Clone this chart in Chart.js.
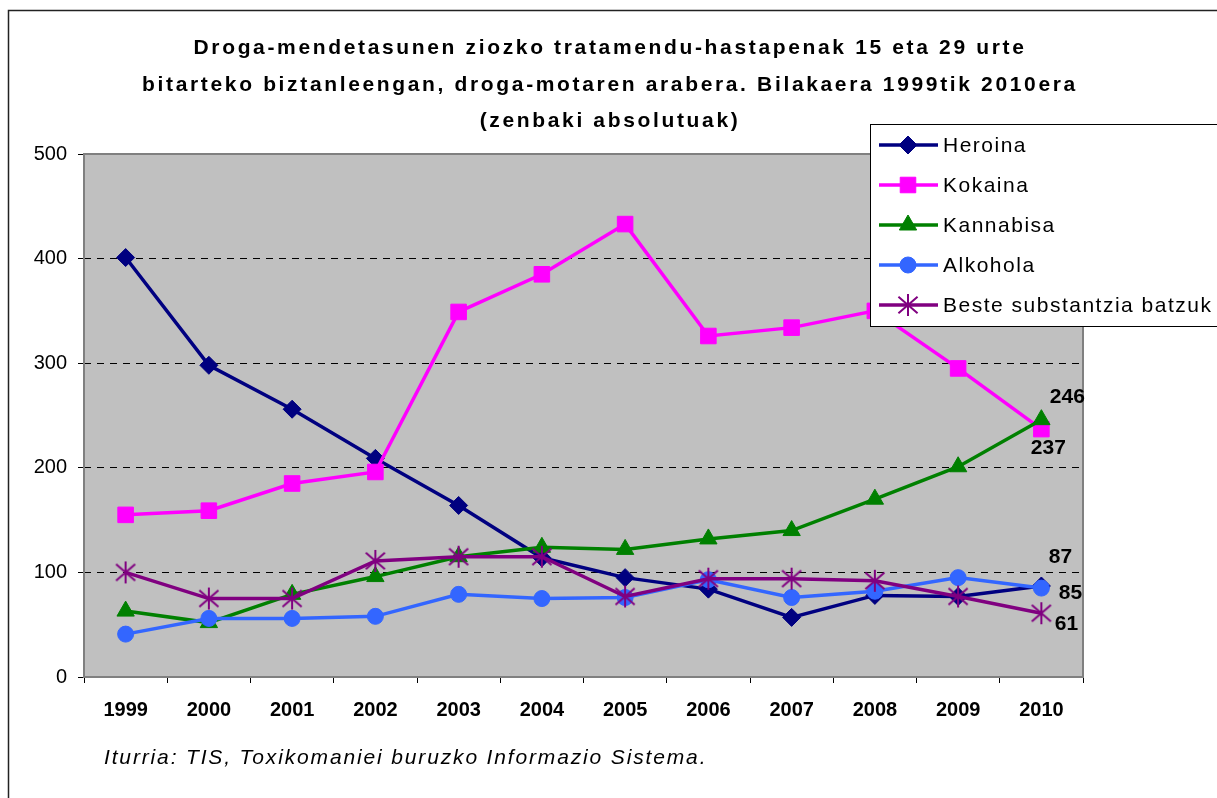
<!DOCTYPE html>
<html>
<head>
<meta charset="utf-8">
<script src="https://cdn.jsdelivr.net/npm/chart.js@4/dist/chart.umd.min.js"></script>
<style>
html,body{margin:0;padding:0;background:#fff;overflow:hidden;}
canvas{display:block;}
</style>
</head>
<body>
<canvas id="c" width="1217" height="798"></canvas>
<script>
const titleLines = [
  "Droga-mendetasunen ziozko tratamendu-hastapenak 15 eta 29 urte",
  "bitarteko biztanleengan, droga-motaren arabera. Bilakaera 1999tik 2010era",
  "(zenbaki absolutuak)"
];
const sourceText = "Iturria: TIS, Toxikomaniei buruzko Informazio Sistema.";
const years = ["1999","2000","2001","2002","2003","2004","2005","2006","2007","2008","2009","2010"];
const seriesNames = ["Heroina","Kokaina","Kannabisa","Alkohola","Beste substantzia batzuk"];
const heroina   = [401, 298, 256, 209, 164, 114, 95, 84, 57, 78, 77, 87];
const kokaina   = [155, 159, 185, 196, 349, 385, 433, 326, 334, 350, 295, 237];
const kannabisa = [63, 52, 79, 96, 115, 124, 122, 132, 140, 170, 201, 246];
const alkohola  = [41, 56, 56, 58, 79, 75, 76, 93, 76, 82, 95, 85];
const beste     = [100, 75, 75, 111, 115, 115, 77, 94, 94, 92, 77, 61];
const yTicks = [0, 100, 200, 300, 400, 500];

const FONT = '"Liberation Sans", Arial, sans-serif';

// asterisk marker
function makeStar(size, color) {
  const c = document.createElement('canvas');
  c.width = size; c.height = size;
  const g = c.getContext('2d');
  g.strokeStyle = color; g.lineWidth = 2; g.lineCap = 'butt';
  const m = size / 2, r = size / 2 - 1;
  g.beginPath();
  g.moveTo(m, m - r); g.lineTo(m, m + r);
  const dx = r * 0.87, dy = r * 0.75;
  g.moveTo(m - dx, m - dy); g.lineTo(m + dx, m + dy);
  g.moveTo(m - dx, m + dy); g.lineTo(m + dx, m - dy);
  g.stroke();
  return c;
}
const starImg = makeStar(24, '#800080');

const styles = [
  {color:'#000080', point:'rectRot', radius:9},
  {color:'#FF00FF', point:'rect', radius:11},
  {color:'#008000', point:'triangle', radius:10},
  {color:'#3366FF', point:'circle', radius:8},
  {color:'#800080', point:starImg, radius:10}
];
const values = [heroina, kokaina, kannabisa, alkohola, beste];

const datasets = values.map((v, i) => ({
  label: seriesNames[i],
  data: v,
  borderColor: styles[i].color,
  backgroundColor: styles[i].color,
  pointBackgroundColor: styles[i].color,
  pointBorderColor: styles[i].color,
  pointStyle: styles[i].point,
  pointRadius: styles[i].radius,
  pointBorderWidth: 1,
  borderWidth: 3.5,
  tension: 0,
  order: 5 - i
}));

const CA = {left: 84, right: 1083, top: 154, bottom: 677};

function spaced(ctx, px) {
  if ('letterSpacing' in ctx) ctx.letterSpacing = px + 'px';
}

const decor = {
  id: 'decor',
  beforeDraw(chart) {
    const ctx = chart.ctx;
    const a = chart.chartArea;
    ctx.save();
    ctx.fillStyle = '#fff';
    ctx.fillRect(0, 0, chart.width, chart.height);
    ctx.strokeStyle = '#222';
    ctx.lineWidth = 1.5;
    ctx.strokeRect(8.5, 10.5, 1400, 1000);
    ctx.fillStyle = '#C0C0C0';
    ctx.fillRect(a.left, a.top, a.right - a.left, a.bottom - a.top);
    ctx.restore();
  },
  beforeDatasetsDraw(chart) {
    const ctx = chart.ctx;
    const a = chart.chartArea;
    ctx.save();
    ctx.strokeStyle = '#808080';
    ctx.lineWidth = 2;
    ctx.strokeRect(a.left, a.top, a.right - a.left, a.bottom - a.top);
    ctx.restore();
  },
  afterDraw(chart) {
    const ctx = chart.ctx;
    ctx.save();
    // title
    ctx.fillStyle = '#000';
    ctx.font = 'bold 21px ' + FONT;
    spaced(ctx, 2.65);
    ctx.textAlign = 'center';
    ctx.textBaseline = 'middle';
    const ty = [48, 85, 121];
    titleLines.forEach((t, i) => ctx.fillText(t, 610, ty[i]));
    // source
    ctx.font = 'italic 21px ' + FONT;
    spaced(ctx, 1.85);
    ctx.textAlign = 'left';
    ctx.fillText(sourceText, 104, 758);
    // data labels at last point
    spaced(ctx, 0);
    ctx.font = 'bold 21px ' + FONT;
    ctx.textAlign = 'center';
    const offs = [[19,-29],[7,19],[26,-22],[29,5],[25,11]];
    chart.data.datasets.forEach((ds, i) => {
      const meta = chart.getDatasetMeta(i);
      const p = meta.data[meta.data.length - 1];
      const val = ds.data[ds.data.length - 1];
      ctx.fillText(String(val), p.x + offs[i][0], p.y + offs[i][1]);
    });
    // legend
    const lx = 870, ly = 124;
    ctx.fillStyle = '#fff';
    ctx.fillRect(lx, ly, 400, 202);
    ctx.strokeStyle = '#000';
    ctx.lineWidth = 1;
    ctx.strokeRect(lx + 0.5, ly + 0.5, 400, 202);
    chart.data.datasets.forEach((ds, i) => {
      const y = 145 + i * 40;
      ctx.strokeStyle = ds.borderColor;
      ctx.lineWidth = 3.5;
      ctx.beginPath();
      ctx.moveTo(879, y); ctx.lineTo(938, y);
      ctx.stroke();
      ctx.fillStyle = ds.borderColor;
      ctx.strokeStyle = ds.borderColor;
      ctx.lineWidth = 1;
      Chart.helpers.drawPoint(ctx, {pointStyle: ds.pointStyle, radius: ds.pointRadius, rotation: 0, borderWidth: 1}, 908, y);
      ctx.fillStyle = '#000';
      ctx.font = '21px ' + FONT;
      spaced(ctx, 1.5);
      ctx.textAlign = 'left';
      ctx.textBaseline = 'middle';
      ctx.fillText(ds.label, 943, y + 1);
      spaced(ctx, 0);
    });
    ctx.restore();
  }
};

new Chart(document.getElementById('c'), {
  type: 'line',
  data: {labels: years, datasets},
  plugins: [decor],
  options: {
    responsive: false,
    animation: false,
    events: [],
    layout: {autoPadding: false, padding: {left: 0, right: 1217 - CA.right, top: CA.top, bottom: 0}},
    plugins: {legend: {display: false}, title: {display: false}, tooltip: {enabled: false}},
    scales: {
      x: {
        type: 'category',
        offset: true,
        afterFit(s) { s.height = 798 - CA.bottom; },
        grid: {display: true, offset: true, drawOnChartArea: false, drawTicks: true, tickLength: 6, tickColor: '#000', tickWidth: 1},
        border: {display: false},
        ticks: {color: '#000', font: {family: FONT, size: 20, weight: 'bold'}, padding: 15, maxRotation: 0, autoSkip: false}
      },
      y: {
        min: 0, max: 500,
        afterFit(s) { s.width = CA.left; },
        afterBuildTicks(s) { s.ticks = yTicks.map(v => ({value: v})); },
        grid: {
          drawTicks: true, tickLength: 6, tickColor: '#000', tickWidth: 1, tickBorderDash: [],
          color: c => (c.tick && (c.tick.value === 0 || c.tick.value === 500)) ? 'rgba(0,0,0,0)' : '#000',
          lineWidth: 1
        },
        border: {display: false, dash: [7, 6]},
        ticks: {color: '#000', font: {family: FONT, size: 20}, padding: 11}
      }
    }
  }
});
</script>
</body>
</html>
